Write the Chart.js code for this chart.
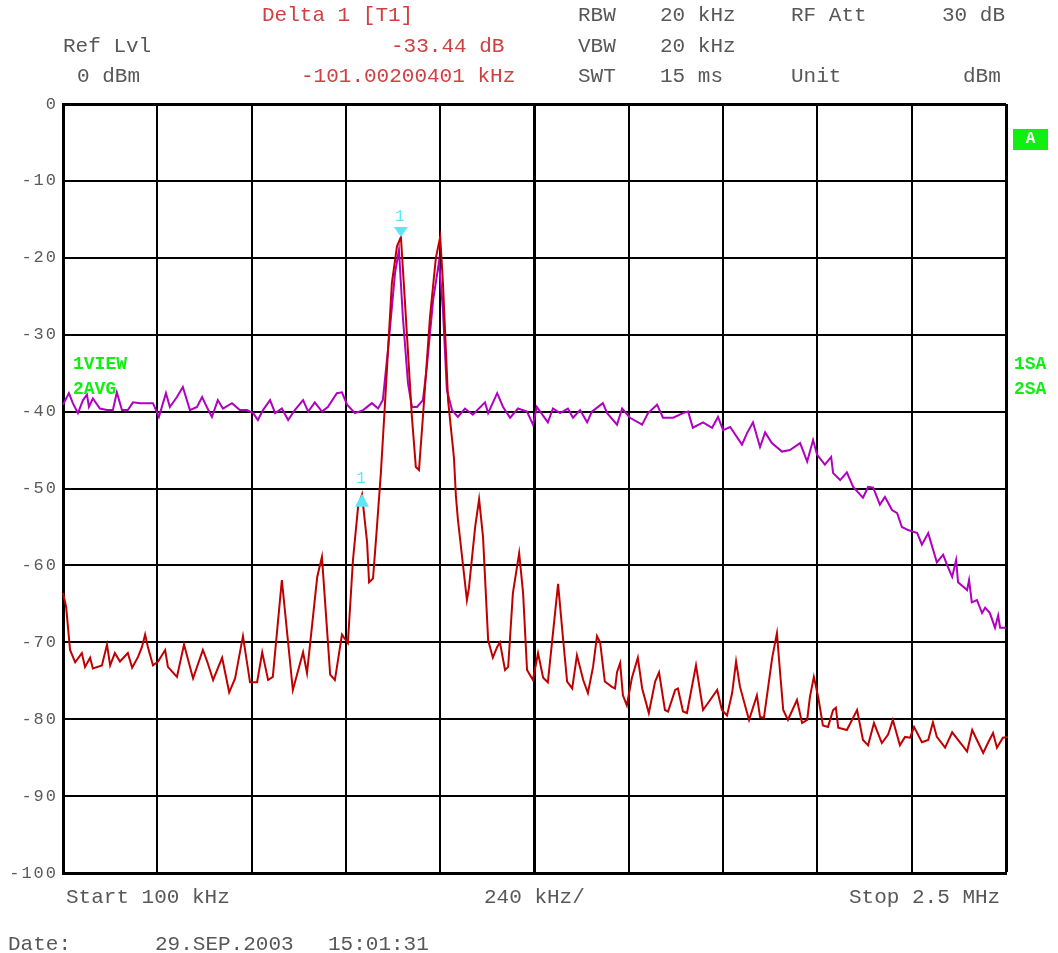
<!DOCTYPE html>
<html>
<head>
<meta charset="utf-8">
<script src="https://cdn.jsdelivr.net/npm/chart.js"></script>
<style>
  html, body { margin: 0; padding: 0; background: #fff; }
  #wrap { position: relative; width: 1058px; height: 953px; }
  .t { position: absolute; font-family: 'Liberation Mono', monospace; font-size: 21px; line-height: 21px; color: #585858; white-space: pre; }
  .red { color: #d04040; }
  .g { position: absolute; font-family: 'Liberation Mono', monospace; font-size: 18px; line-height: 18px; font-weight: bold; color: #11ee11; white-space: pre; }
  #boxA { position: absolute; left: 1013px; top: 129px; width: 35px; height: 21px; background: #11ee11; color: #fff; font-family: 'Liberation Mono', monospace; font-weight: bold; font-size: 16px; line-height: 21px; text-align: center; }
</style>
</head>
<body>
<div id="wrap">
  <canvas id="spectrum" width="1058" height="953"></canvas>

  <div class="t red" style="left:262px; top:5px;">Delta 1 [T1]</div>
  <div class="t" style="left:63px; top:36px;">Ref Lvl</div>
  <div class="t" style="left:77px; top:66px;">0 dBm</div>
  <div class="t red" style="left:391px; top:36px;">-33.44 dB</div>
  <div class="t red" style="left:301px; top:66px;">-101.00200401 kHz</div>

  <div class="t" style="left:578px; top:5px;">RBW</div>
  <div class="t" style="left:660px; top:5px;">20 kHz</div>
  <div class="t" style="left:791px; top:5px;">RF Att</div>
  <div class="t" style="left:942px; top:5px;">30 dB</div>
  <div class="t" style="left:578px; top:36px;">VBW</div>
  <div class="t" style="left:660px; top:36px;">20 kHz</div>
  <div class="t" style="left:578px; top:66px;">SWT</div>
  <div class="t" style="left:660px; top:66px;">15 ms</div>
  <div class="t" style="left:791px; top:66px;">Unit</div>
  <div class="t" style="left:963px; top:66px;">dBm</div>

  <div class="g" style="left:73px; top:355px;">1VIEW</div>
  <div class="g" style="left:73px; top:380px;">2AVG</div>
  <div class="g" style="left:1014px; top:355px;">1SA</div>
  <div class="g" style="left:1014px; top:380px;">2SA</div>
  <div id="boxA">A</div>

  <div class="t" style="left:66px; top:887px;">Start 100 kHz</div>
  <div class="t" style="left:484px; top:887px;">240 kHz/</div>
  <div class="t" style="left:849px; top:887px;">Stop 2.5 MHz</div>
  <div class="t" style="left:8px; top:934px;">Date:</div>
  <div class="t" style="left:155px; top:934px;">29.SEP.2003</div>
  <div class="t" style="left:328px; top:934px;">15:01:31</div>
</div>

<script>
// trace 2 (AVG, red) - frequency in kHz, level in dBm
const freqAvg = [100,108,118,131,148,156,169,176,199,212,
  220,232,245,265,276,291,301,309,316,329,
  342,360,367,390,408,431,456,467,482,505,
  523,538,558,576,594,607,622,634,657,685,
  711,721,747,759,780,792,810,825,838,851,
  861,874,879,889,899,909,920,937,950,960,
  970,988,998,1006,1016,1034,1049,1060,1067,1080,
  1095,1100,1105,1128,1133,1149,1159,1169,1182,1194,
  1205,1212,1225,1233,1245,1261,1271,1281,1296,1309,
  1322,1334,1347,1360,1373,1383,1396,1408,1424,1436,
  1449,1459,1467,1479,1497,1505,1510,1518,1525,1535,
  1548,1563,1574,1591,1607,1617,1632,1640,1658,1665,
  1678,1688,1711,1729,1747,1765,1777,1790,1803,1813,
  1823,1846,1866,1874,1884,1905,1917,1925,1933,1945,
  1968,1981,1994,2001,2011,2022,2034,2047,2060,2067,
  2073,2095,2121,2136,2149,2164,2184,2200,2212,2230,
  2243,2256,2266,2286,2302,2314,2324,2345,2363,2378,
  2401,2414,2426,2442,2454,2467,2477,2492,2505,2513];
const levelAvg = [-63.6,-65.4,-71,-72.6,-71.4,-73.2,-72,-73.4,-73,-70.3,
  -73,-71.4,-72.5,-71.4,-73.3,-71.9,-70.6,-69,-70.6,-73,
  -72.5,-71,-73.2,-74.5,-70.3,-74.7,-71,-72.5,-74.9,-72,
  -76.5,-74.7,-69.2,-75.2,-75.2,-71.3,-74.9,-74.5,-61.9,-76.2,
  -71.3,-74,-61.5,-58.9,-74.2,-74.9,-69,-70.1,-59.3,-52.4,
  -50.8,-57,-62.2,-61.7,-55,-48,-38.5,-23.3,-18.5,-17.3,
  -25.5,-40.7,-47.2,-47.6,-40.7,-27.7,-20,-17.3,-23.3,-38.5,
  -46,-51,-54,-64.5,-63,-55,-51.4,-56.3,-69.7,-72,
  -70.6,-70,-73.6,-73.2,-63.6,-58.4,-63.6,-73.6,-74.9,-71.4,
  -74.6,-75.2,-68.8,-62.4,-69.7,-75.1,-76,-71.7,-74.9,-76.6,
  -73.2,-69.2,-70,-75.1,-75.8,-76,-73.9,-72.7,-76.9,-78.2,
  -74.6,-72,-76,-79.2,-75.1,-73.9,-78.8,-79,-76.2,-76,
  -79,-79.2,-73,-78.8,-77.5,-76.2,-78.8,-79.5,-76.6,-72.5,
  -75.8,-80.1,-76.9,-79.7,-79.8,-72,-68.8,-73.9,-78.8,-80.1,
  -77.5,-80.5,-80.1,-77.1,-74.5,-77.1,-80.8,-81,-78.8,-78.5,
  -81.1,-81.4,-78.8,-82.7,-83.4,-80.5,-83.1,-82,-80.1,-83.4,
  -82.3,-82.4,-81,-83,-82.7,-80.4,-82.3,-83.7,-81.7,-82.7,
  -84.2,-81.4,-82.7,-84.4,-83.1,-81.8,-83.7,-82.4,-82.3,-83.7];

// trace 1 (VIEW, purple)
const freqView = [100,115,125,138,151,161,166,176,194,212,
  227,237,250,265,278,296,314,329,344,362,
  372,390,405,423,441,454,466,479,494,507,
  530,550,568,584,596,609,627,640,657,673,
  690,711,724,741,759,774,797,810,823,843,
  864,886,902,914,927,945,955,965,978,988,
  1001,1016,1026,1042,1057,1067,1077,1090,1105,1123,
  1143,1174,1182,1205,1220,1238,1258,1281,1296,1306,
  1334,1347,1365,1385,1398,1416,1434,1446,1474,1485,
  1510,1523,1543,1574,1589,1612,1627,1653,1678,1691,
  1703,1729,1752,1767,1780,1798,1828,1841,1856,1874,
  1887,1904,1930,1950,1976,1994,2009,2019,2039,2055,
  2060,2078,2095,2111,2136,2149,2162,2179,2192,2210,
  2223,2235,2251,2274,2286,2302,2324,2340,2352,2363,
  2373,2378,2401,2406,2413,2426,2439,2447,2459,2472,
  2480,2485,2500,2505];
const levelView = [-39.1,-37.6,-38.9,-40.2,-38.5,-37.8,-39.4,-38.3,-39.6,-39.8,
  -39.8,-37.5,-39.8,-39.8,-38.8,-38.9,-38.9,-38.9,-40.7,-37.6,
  -39.4,-38.1,-36.8,-39.8,-39.4,-38.1,-39.4,-40.7,-38.5,-39.6,
  -38.9,-39.8,-39.8,-40.2,-41.1,-39.8,-38.5,-40.2,-39.6,-41.1,
  -39.8,-38.5,-40,-38.8,-40,-39.4,-37.6,-37.5,-39.1,-40.2,
  -39.8,-38.9,-39.6,-38.5,-32,-22,-19,-27.7,-36.3,-39.4,
  -39.4,-38.5,-34.2,-25.5,-20.5,-26.8,-37.2,-39.8,-40.7,-39.6,
  -40.4,-38.8,-40.2,-37.6,-39.4,-40.8,-39.6,-40,-41.7,-39.4,
  -41.4,-39.6,-40.2,-39.6,-40.8,-39.8,-41.4,-40,-38.9,-40.2,
  -41.7,-39.6,-40.8,-41.7,-40.2,-39.1,-40.8,-40.8,-40.2,-40,
  -42.1,-41.4,-42.1,-40.7,-42.4,-42,-44.3,-42.8,-41.4,-44.6,
  -42.7,-44.1,-45.2,-45,-44.1,-46.5,-43.7,-45.6,-46.9,-45.9,
  -48,-48.9,-47.9,-49.8,-51.2,-49.8,-49.9,-52.1,-51.1,-52.8,
  -53.2,-55,-55.4,-55.8,-57.3,-55.8,-59.6,-58.6,-60.2,-61.5,
  -59.3,-62.2,-63.2,-61.9,-64.8,-64.5,-66.2,-65.5,-66.2,-68.1,
  -66.5,-68.1,-68.1,-65.5];

// grid: 240 kHz/div, 10 dB/div
const xTicks = [100,340,580,820,1060,1300,1540,1780,2020,2260,2500];
const centerFreq = 1300;

// marker 1 and delta marker 1
const markerFreq = [960, 861];
const markerLevel = [-17.3, -50.8];
const markerPointsDown = [true, false];

const markerPlugin = {
  id: 'markers',
  beforeDraw(chart) {
    chart.ctx.letterSpacing = '2px';
  },
  afterDatasetsDraw(chart) {
    const ctx = chart.ctx;
    const xs = chart.scales.x, ys = chart.scales.y;
    ctx.save();
    ctx.fillStyle = '#5ae8f5';
    ctx.font = '16px "Liberation Mono"';
    ctx.textAlign = 'center';
    ctx.textBaseline = 'middle';
    markerFreq.forEach((f, i) => {
      const px = xs.getPixelForValue(f);
      const py = ys.getPixelForValue(markerLevel[i]);
      ctx.beginPath();
      if (markerPointsDown[i]) {
        ctx.moveTo(px, py);
        ctx.lineTo(px - 7, py - 10);
        ctx.lineTo(px + 7, py - 10);
        ctx.closePath();
        ctx.fill();
        ctx.fillText('1', px, py - 20);
      } else {
        ctx.moveTo(px, py - 1);
        ctx.lineTo(px - 7, py + 12);
        ctx.lineTo(px + 7, py + 12);
        ctx.closePath();
        ctx.fill();
        ctx.fillText('1', px, py - 16);
      }
    });
    ctx.restore();
  }
};

const toPoints = (fs, ls) => fs.map((f, i) => ({ x: f, y: ls[i] }));

new Chart(document.getElementById('spectrum'), {
  type: 'line',
  data: {
    datasets: [{
        label: '2AVG',
        data: toPoints(freqAvg, levelAvg),
        borderColor: '#c00000',
        borderWidth: 2,
        pointRadius: 0,
        tension: 0,
        order: 1,
        clip: false
      }, {
        label: '1VIEW',
        data: toPoints(freqView, levelView),
        borderColor: '#b000c0',
        borderWidth: 2,
        pointRadius: 0,
        tension: 0,
        order: 2,
        clip: false
      }
    ]
  },
  options: {
    responsive: false,
    animation: false,
    devicePixelRatio: 1,
    layout: { padding: { top: 104, right: 52, bottom: 80, left: 0 } },
    plugins: {
      legend: { display: false },
      tooltip: { enabled: false }
    },
    scales: {
      x: {
        type: 'linear',
        min: 100,
        max: 2500,
        afterBuildTicks: s => { s.ticks = xTicks.map(v => ({ value: v })); },
        afterFit: s => { s.height = 0; },
        ticks: { display: false },
        grid: {
          color: '#000',
          drawTicks: false,
          lineWidth: c => (c.tick && (c.tick.value === centerFreq || c.tick.value === 2500)) ? 3 : 2
        },
        border: { color: '#000', width: 3 }
      },
      y: {
        min: -100,
        max: 0,
        afterFit: s => { s.width = 63; },
        ticks: {
          stepSize: 10,
          color: '#5a5a5a',
          padding: 5,
          font: { family: 'Liberation Mono', size: 17 }
        },
        grid: {
          color: '#000',
          drawTicks: false,
          lineWidth: c => (c.tick && c.tick.value === 0) ? 3 : 2
        },
        border: { color: '#000', width: 3 }
      }
    }
  },
  plugins: [markerPlugin]
});
</script>
</body>
</html>
